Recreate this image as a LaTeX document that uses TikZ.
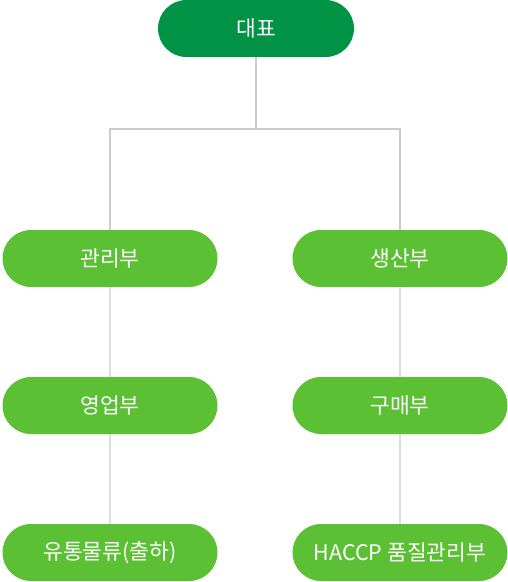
\documentclass[tikz,border=0pt]{standalone}
\usepackage{fontspec}
\setmainfont{Noto Sans CJK KR}
\usepackage{tikz}
\usetikzlibrary{shapes,positioning,calc,backgrounds}
\definecolor{headGreen}{RGB}{0,146,69}
\definecolor{deptGreen}{RGB}{92,192,52}
\definecolor{linkGray}{RGB}{204,204,204}

\begin{document}
\begin{tikzpicture}[x=1pt,y=-1pt,
  headbox/.style={rounded rectangle, fill=headGreen, text=white, minimum width=196pt, minimum height=57pt, inner sep=0pt, font=\fontsize{21.5}{24}\selectfont},
  deptbox/.style={rounded rectangle, fill=deptGreen, text=white, minimum width=215pt, minimum height=57pt, inner sep=0pt, font=\fontsize{21.5}{24}\selectfont},
  link/.style={draw=linkGray, line width=1.4pt}]
  \useasboundingbox (0,0) rectangle (508,582);
  \node[headbox] (ceo) at (256,28.5) {대표};
  \node[deptbox] (admin) at (110,258.5) {관리부};
  \node[deptbox] (sales) at (110,405.5) {영업부};
  \node[deptbox] (logis) at (110,552.5) {유통물류(출하)};
  \node[deptbox] (prod) at (400,258.5) {생산부};
  \node[deptbox] (purch) at (400,405.5) {구매부};
  \node[deptbox] (haccp) at (400,552.5) {HACCP 품질관리부};
  \coordinate (branch) at (256,129);
  \begin{scope}[on background layer]
    \draw[link] (ceo.south) -- (branch);
    \draw[link] (branch) -| (admin.north);
    \draw[link] (branch) -| (prod.north);
    \draw[link] (admin) -- (sales);
    \draw[link] (sales) -- (logis);
    \draw[link] (prod) -- (purch);
    \draw[link] (purch) -- (haccp);
  \end{scope}
\end{tikzpicture}
\end{document}
